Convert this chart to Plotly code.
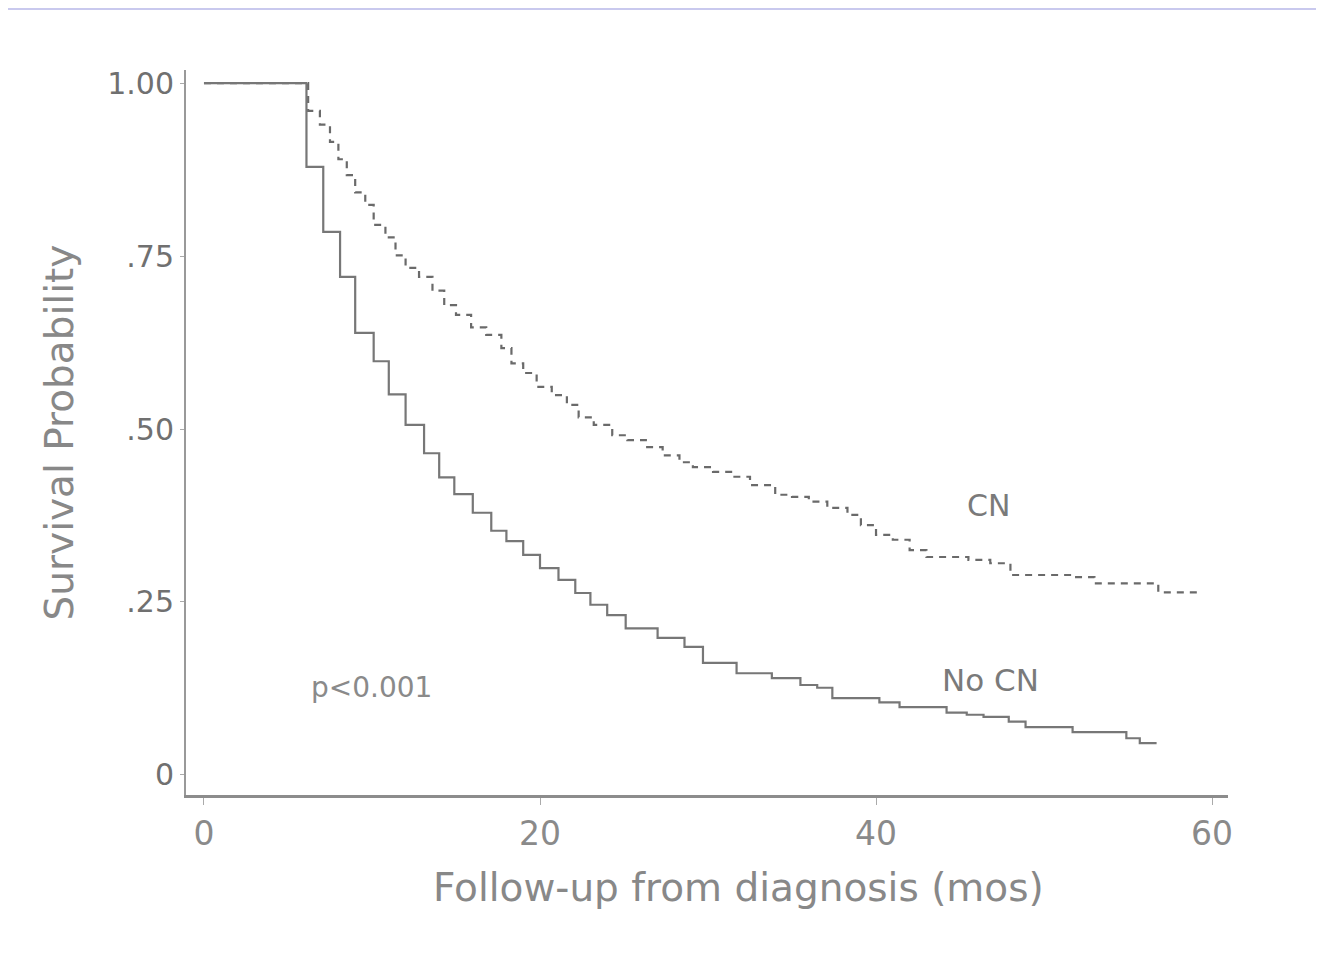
import plotly.graph_objects as go

# Kaplan-Meier step data (months, survival probability)
nocn_time = [0, 6.1, 7.1, 8.1, 9.0, 10.1, 11.0, 12.0, 13.1, 14.0, 14.9, 16.0, 17.1, 18.0,
             19.0, 20.0, 21.1, 22.1, 23.0, 24.0, 25.1, 27.0, 28.6, 29.7, 31.7, 33.8,
             35.5, 36.5, 37.4, 40.2, 41.4, 44.2, 45.4, 46.4, 47.9, 48.9, 51.7, 54.9, 55.7, 56.7]
nocn_surv = [1.0, 0.879, 0.785, 0.72, 0.639, 0.598, 0.55, 0.506, 0.465, 0.43, 0.406, 0.379, 0.353, 0.338,
             0.318, 0.299, 0.282, 0.263, 0.246, 0.231, 0.212, 0.198, 0.185, 0.162, 0.147, 0.14,
             0.13, 0.126, 0.111, 0.105, 0.098, 0.09, 0.087, 0.084, 0.077, 0.069, 0.062, 0.053, 0.046, 0.046]

cn_time = [0, 6.2, 6.9, 7.5, 8.0, 8.5, 9.0, 9.6, 10.1, 10.8, 11.4, 12.0, 12.8, 13.6, 14.3, 15.0,
           15.9, 16.8, 17.7, 18.3, 19.0, 19.8, 20.7, 21.6, 22.3, 23.2, 24.3, 25.2, 26.3, 27.3,
           28.3, 29.1, 30.3, 31.5, 32.5, 34.0, 35.0, 36.0, 37.1, 38.3, 39.1, 40.0, 41.0, 42.0,
           43.0, 45.5, 46.8, 48.0, 51.7, 53.0, 56.8, 59.2]
cn_surv = [1.0, 0.96, 0.94, 0.915, 0.89, 0.867, 0.842, 0.824, 0.795, 0.777, 0.751, 0.733, 0.72, 0.70, 0.679, 0.665,
           0.647, 0.636, 0.617, 0.595, 0.581, 0.561, 0.549, 0.535, 0.517, 0.506, 0.491, 0.484, 0.474, 0.462,
           0.452, 0.445, 0.438, 0.431, 0.419, 0.405, 0.402, 0.395, 0.386, 0.376, 0.361, 0.347, 0.34, 0.325,
           0.315, 0.311, 0.306, 0.289, 0.286, 0.277, 0.264, 0.264]

x_ticks = [0, 20, 40, 60]
y_ticks = [0, 0.25, 0.5, 0.75, 1.0]
y_tick_labels = ["0", ".25", ".50", ".75", "1.00"]

grey = "#7a7a7a"
font = "DejaVu Sans, Arial, sans-serif"

fig = go.Figure()
fig.add_trace(go.Scatter(x=cn_time, y=cn_surv, mode="lines", line_shape="hv",
                         line=dict(color="#6a6a6a", width=2.2, dash="7px,6px"), name="CN"))
fig.add_trace(go.Scatter(x=nocn_time, y=nocn_surv, mode="lines", line_shape="hv",
                         line=dict(color="#777777", width=2.2), name="No CN"))

fig.add_annotation(x=46.7, y=0.39, text="CN", showarrow=False,
                   font=dict(family=font, size=30, color=grey))
fig.add_annotation(x=46.8, y=0.137, text="No CN", showarrow=False,
                   font=dict(family=font, size=31, color=grey))
fig.add_annotation(x=10.0, y=0.126, text="p<0.001", showarrow=False,
                   font=dict(family=font, size=28, color="#8a8a8a"))

# x-axis title (sits slightly right of the plot centre in the original)
fig.add_annotation(xref="paper", yref="paper", x=0.53, y=-0.128, xanchor="center", yanchor="middle",
                   text="Follow-up from diagnosis (mos)", showarrow=False,
                   font=dict(family=font, size=39, color="#888888"))

# thin lavender rule at the top of the slide
fig.add_shape(type="line", xref="paper", yref="paper", x0=-0.171, x1=1.09, y0=1.084, y1=1.084,
              line=dict(color="#c9c9ee", width=2))

fig.update_layout(
    width=1308, height=937,
    margin=dict(l=178, r=88, t=62, b=150),
    paper_bgcolor="white", plot_bgcolor="white",
    showlegend=False,
    font=dict(family=font, color=grey),
)
fig.update_xaxes(range=[-1.07, 60.95], tickvals=x_ticks, showgrid=False, zeroline=False,
                 showline=True, linecolor="#8c8c8c", linewidth=3,
                 ticks="outside", ticklen=7, tickcolor="#aaaaaa", tickwidth=1,
                 tickfont=dict(size=33, color="#8a8a8a"))
fig.update_yaxes(range=[-0.029, 1.019], tickvals=y_ticks, ticktext=y_tick_labels,
                 showgrid=False, zeroline=False,
                 showline=True, linecolor="#999999", linewidth=2,
                 ticks="outside", ticklen=4, tickcolor="#aaaaaa", tickwidth=1,
                 tickfont=dict(size=30, color="#707070"),
                 title=dict(text="Survival Probability", font=dict(size=39, color="#888888"),
                            standoff=22))

fig.write_html("out.html")
